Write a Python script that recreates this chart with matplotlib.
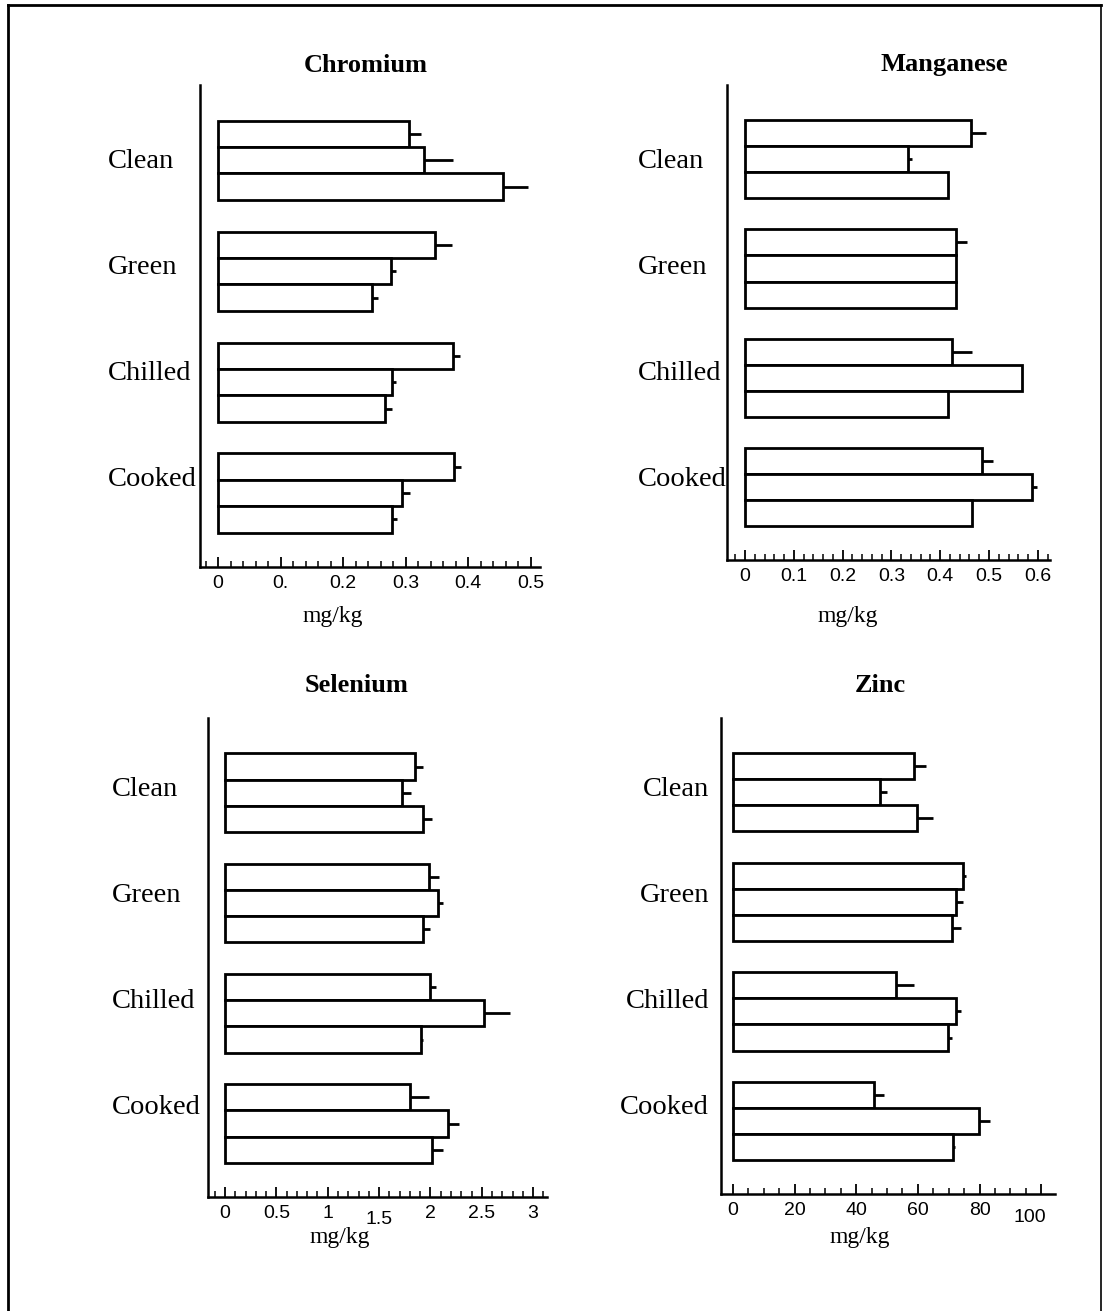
import matplotlib
matplotlib.use('Agg')
import matplotlib.pyplot as plt
import matplotlib.transforms as mtrans
from matplotlib.ticker import MultipleLocator
import numpy as np

W, H = 1104, 1311

groups = ['Clean', 'Green', 'Chilled', 'Cooked']

# three bars per group, top to bottom
chromium_mean = [[0.305, 0.330, 0.455], [0.347, 0.277, 0.246],
                 [0.376, 0.278, 0.267], [0.378, 0.294, 0.278]]
chromium_err = [[0.020, 0.045, 0.040], [0.027, 0.008, 0.010],
                [0.011, 0.007, 0.011], [0.011, 0.013, 0.008]]

manganese_mean = [[0.463, 0.334, 0.416], [0.432, 0.432, 0.432],
                  [0.424, 0.567, 0.416], [0.486, 0.588, 0.465]]
manganese_err = [[0.031, 0.008, 0.0], [0.023, 0.0, 0.0],
                 [0.041, 0.0, 0.0], [0.022, 0.010, 0.0]]

selenium_mean = [[1.85, 1.72, 1.93], [1.99, 2.07, 1.93],
                 [2.00, 2.52, 1.91], [1.80, 2.17, 2.02]]
selenium_err = [[0.08, 0.09, 0.09], [0.09, 0.05, 0.07],
                [0.05, 0.25, 0.02], [0.19, 0.11, 0.10]]

zinc_mean = [[58.8, 47.7, 59.7], [74.7, 72.4, 71.1],
             [52.9, 72.4, 69.8], [45.8, 79.9, 71.4]]
zinc_err = [[3.9, 2.3, 5.2], [0.9, 2.3, 2.9],
            [5.9, 1.6, 1.3], [3.2, 3.5, 0.6]]

chromium_ticks = [0, 0.1, 0.2, 0.3, 0.4, 0.5]
chromium_labels = ['0', '0.', '0.2', '0.3', '0.4', '0.5']
manganese_ticks = [0, 0.1, 0.2, 0.3, 0.4, 0.5, 0.6]
manganese_labels = ['0', '0.1', '0.2', '0.3', '0.4', '0.5', '0.6']
selenium_ticks = [0, 0.5, 1, 1.5, 2, 2.5, 3]
selenium_labels = ['0', '0.5', '1', '1.5', '2', '2.5', '3']
zinc_ticks = [0, 20, 40, 60, 80, 100]
zinc_labels = ['0', '20', '40', '60', '80', '100']

serif = 'Liberation Serif'
sans = 'Liberation Sans'

fig = plt.figure(figsize=(W / 100, H / 100), dpi=100)


def px_axes(l, t, r, b):
    return fig.add_axes([l / W, 1 - b / H, (r - l) / W, (b - t) / H])


# box = (left, top, right, bottom) in pixels; category labels sit on their own fixed pitch
panels = [
    dict(title='Chromium', mean=chromium_mean, err=chromium_err, box=(200, 85, 540, 567),
         tpos=(366, 65), xlim=(-0.029, 0.515), minor=0.02, ticks=chromium_ticks,
         labels=chromium_labels, lab_x=108, lab_y=162, lab_ha='left', unit=(333, 617), shift={}),
    dict(title='Manganese', mean=manganese_mean, err=manganese_err, box=(727, 85, 1050, 560),
         tpos=(944, 65), xlim=(-0.037, 0.625), minor=0.02, ticks=manganese_ticks,
         labels=manganese_labels, lab_x=638, lab_y=161, lab_ha='left', unit=(848, 617), shift={}),
    dict(title='Selenium', mean=selenium_mean, err=selenium_err, box=(208, 718, 547, 1197),
         tpos=(357, 686), xlim=(-0.166, 3.135), minor=0.1, ticks=selenium_ticks,
         labels=selenium_labels, lab_x=112, lab_y=790, lab_ha='left', unit=(340, 1238),
         shift={3: (0, -6)}),
    dict(title='Zinc', mean=zinc_mean, err=zinc_err, box=(721, 718, 1055, 1194),
         tpos=(880, 686), xlim=(-3.9, 104.5), minor=5, ticks=zinc_ticks,
         labels=zinc_labels, lab_x=709, lab_y=790, lab_ha='right', unit=(860, 1238),
         shift={5: (-11, -7)}),
]

pitch = 4.2
lab_pitch = 106
for p in panels:
    ax = px_axes(*p['box'])
    centers = np.arange(len(groups)) * pitch
    for gi, c in enumerate(centers):
        ypos = c + np.array([-1, 0, 1])
        means = np.array(p['mean'][gi])
        errs = np.array(p['err'][gi])
        ax.barh(ypos, means, height=1, color='white', edgecolor='black', linewidth=2, zorder=2)
        ax.errorbar(means, ypos, xerr=[np.zeros(3), errs], fmt='none', ecolor='black',
                    elinewidth=2, capsize=0, zorder=1)
    ax.set_ylim(centers[-1] + 1.5 + 1.3, -1.5 - 1.35)
    ax.set_xlim(*p['xlim'])
    ax.set_yticks([])
    ax.set_xticks(p['ticks'])
    ax.set_xticklabels(p['labels'], fontfamily=sans, fontsize=14)
    ax.xaxis.set_minor_locator(MultipleLocator(p['minor']))
    ax.tick_params(axis='x', which='major', direction='in', length=7, width=1.3, pad=6)
    ax.tick_params(axis='x', which='minor', direction='in', length=4, width=1.1)
    for s in ['top', 'right']:
        ax.spines[s].set_visible(False)
    ax.spines['left'].set_linewidth(1.8)
    ax.spines['bottom'].set_linewidth(1.8)
    for idx, (dx, dy) in p['shift'].items():
        lab = ax.get_xticklabels()[idx]
        lab.set_transform(lab.get_transform() +
                          mtrans.ScaledTranslation(dx / 100, dy / 100, fig.dpi_scale_trans))

    for gi, g in enumerate(groups):
        y = p['lab_y'] + gi * lab_pitch
        fig.text(p['lab_x'] / W, 1 - y / H, g, ha=p['lab_ha'], va='center',
                 fontfamily=serif, fontsize=20.5)

    fig.text(p['tpos'][0] / W, 1 - p['tpos'][1] / H, p['title'], ha='center', va='center',
             fontfamily=serif, fontsize=19, fontweight='bold')
    fig.text(p['unit'][0] / W, 1 - p['unit'][1] / H, 'mg/kg', ha='center', va='center',
             fontfamily=serif, fontsize=17)

# frame around the whole figure
fig.add_artist(plt.Line2D([8 / W, 8 / W], [0, 1 - 5 / H], transform=fig.transFigure,
                          color='black', linewidth=2))
fig.add_artist(plt.Line2D([8 / W, 1101 / W], [1 - 5 / H, 1 - 5 / H], transform=fig.transFigure,
                          color='black', linewidth=2))
fig.add_artist(plt.Line2D([1101 / W, 1101 / W], [0, 1 - 5 / H], transform=fig.transFigure,
                          color='black', linewidth=1.2))

fig.savefig('out.png', dpi=100)
